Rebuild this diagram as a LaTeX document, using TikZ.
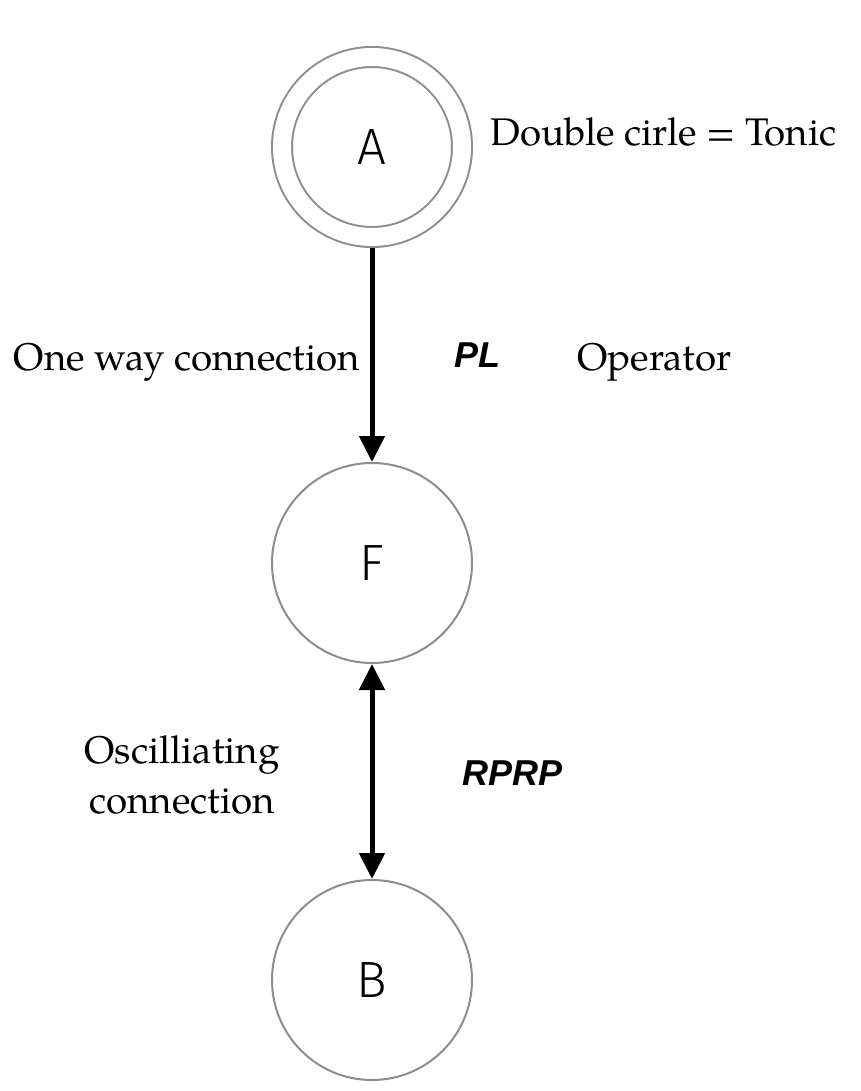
\documentclass[tikz,border=0pt]{standalone}
\usepackage{fontspec}
\setmainfont{texgyrepagella}[Extension=.otf, UprightFont=*-regular, BoldFont=*-bold, ItalicFont=*-italic, BoldItalicFont=*-bolditalic]
\newfontfamily\chordfont{Fira Sans Light}
\newfontfamily\opfont{Liberation Sans}
\usetikzlibrary{arrows.meta}
\definecolor{chordgray}{RGB}{140,140,145}

\begin{document}
\begin{tikzpicture}[x=1pt, y=-1pt, >={Triangle[width=25pt, length=26pt]}]

\tikzset{chord/.style={circle, draw=chordgray, line width=2pt, minimum size=200pt, inner sep=0pt, font=\chordfont\fontsize{51}{51}\selectfont}}
\tikzset{tonic/.style={chord, minimum size=180pt, double=white, double distance=18pt, outer sep=11pt}}
\tikzset{conn/.style={line width=5pt}}
\tikzset{note/.style={inner sep=0pt, font=\fontsize{38.5}{50}\selectfont}}
\tikzset{oplabel/.style={inner sep=0pt, font=\opfont\bfseries\itshape\fontsize{36}{36}\selectfont}}

\useasboundingbox (0,0) rectangle (860,1091);

% chords
\node[tonic] at (372, 147) (A) {A};
\node[chord] at (372, 563) (F) {F};
\node[chord] at (372, 980) (B) {B};

% notes
\node[note, anchor=base west] at (490, 146) (tonicnote) {Double cirle = Tonic};

% connections
\draw[conn, ->] (A) -- (F);
\draw[conn, <->] (F) -- (B);

% connection labels
\node[note, anchor=base east] at (360, 370) (oneway) {One way connection};
\node[oplabel, anchor=base west] at (454, 367) (pl) {PL};
\node[note, anchor=base west] at (577, 370) (operator) {Operator};
\node[note, align=center] at (182, 775) (oscill) {Oscilliating\\connection};
\node[oplabel, anchor=base west] at (462, 785) (rprp) {RPRP};

\end{tikzpicture}
\end{document}
